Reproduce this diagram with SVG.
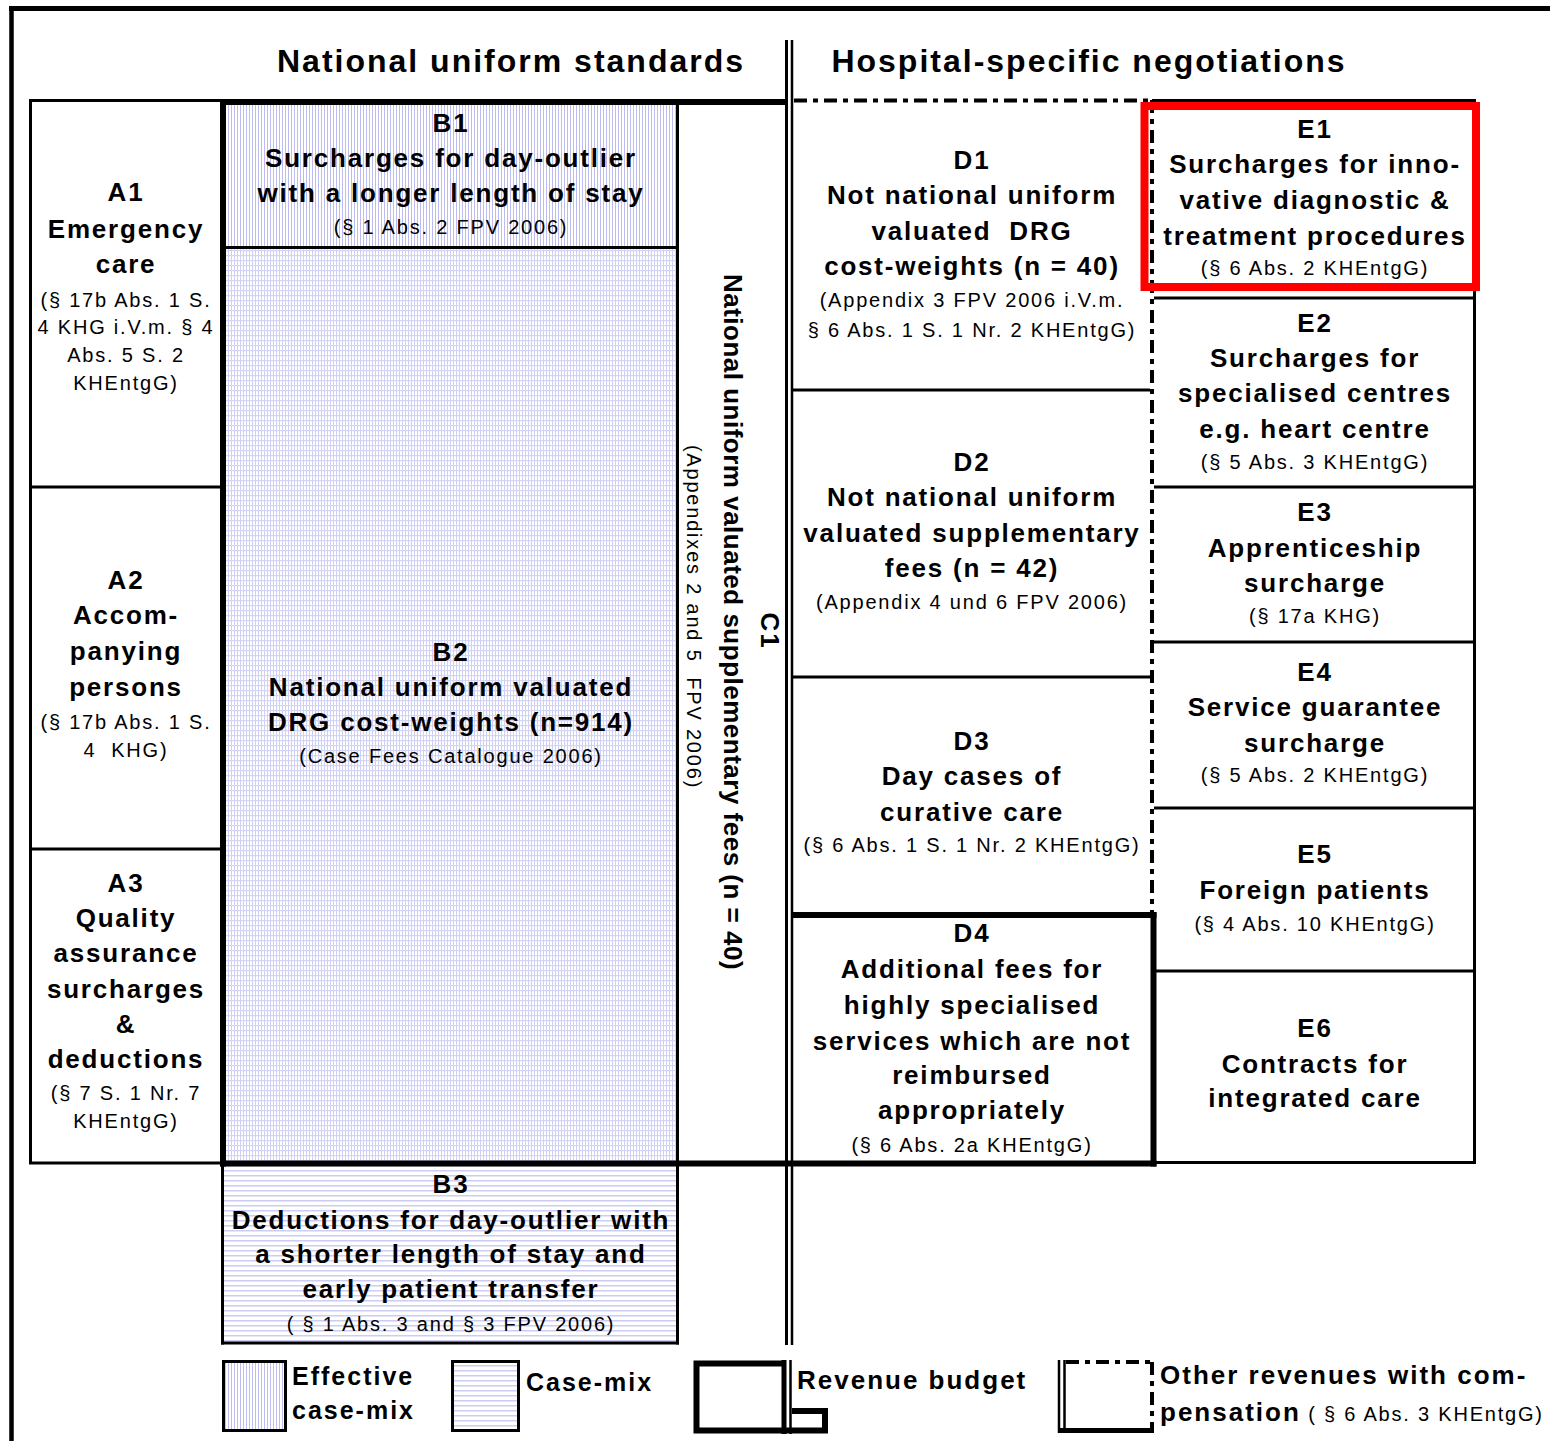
<svg xmlns="http://www.w3.org/2000/svg" width="1550" height="1441" viewBox="0 0 1550 1441">
<style>
.b{font-family:"Liberation Sans",Arial,sans-serif;font-weight:bold;font-size:26px;letter-spacing:1.8px;text-anchor:middle;fill:#000}
.s{font-family:"Liberation Sans",Arial,sans-serif;font-size:20px;letter-spacing:1.8px;text-anchor:middle;fill:#000}
.h{font-family:"Liberation Sans",Arial,sans-serif;font-weight:bold;font-size:32px;letter-spacing:2px;text-anchor:middle;fill:#000}
.l{font-family:"Liberation Sans",Arial,sans-serif;font-weight:bold;font-size:26px;letter-spacing:2px;fill:#000}
.thin{stroke:#000;stroke-width:3;fill:none}
.thick{stroke:#000;stroke-width:6;fill:none}
.dd{stroke:#000;stroke-width:4;fill:none;stroke-dasharray:13 6 5 6}
</style>
<defs>
<pattern id="vert" width="3" height="10" patternUnits="userSpaceOnUse"><rect width="3" height="10" fill="#fff"/><rect width="1" height="10" fill="#bcbcf0"/></pattern>
<pattern id="horiz" width="10" height="5" patternUnits="userSpaceOnUse"><rect width="10" height="5" fill="#fff"/><rect width="10" height="1.5" fill="#cdcdf4"/></pattern>
<pattern id="grid" width="3" height="5" patternUnits="userSpaceOnUse"><rect width="3" height="5" fill="#fff"/><rect width="1" height="5" fill="#d0d0f4"/><rect width="3" height="1.2" fill="#d4d4f6"/></pattern>
</defs>
<rect width="1550" height="1441" fill="#fff"/>

<g id="headers">
<text class="h" x="511" y="72">National uniform standards</text>
<text class="h" x="1089" y="72">Hospital-specific negotiations</text>
</g>

<g id="fills">
<rect x="223" y="101" width="455" height="146" fill="url(#vert)"/>
<rect x="223" y="247" width="455" height="916" fill="url(#grid)"/>
<rect x="222" y="1163" width="456" height="180" fill="url(#horiz)"/>
</g>

<g id="connectors">
<line x1="9" y1="8.5" x2="1550" y2="8.5" stroke="#000" stroke-width="5"/>
<line x1="11.5" y1="6" x2="11.5" y2="1441" stroke="#000" stroke-width="4.5"/>
<rect class="thin" x="30.5" y="100.5" width="192" height="1062.5"/>
<line class="thin" x1="30" y1="487" x2="222" y2="487"/>
<line class="thin" x1="30" y1="849" x2="222" y2="849"/>
<line class="thin" x1="223" y1="247.5" x2="678" y2="247.5"/>
<line class="thin" x1="677.5" y1="102" x2="677.5" y2="1344.5"/>
<line class="thin" x1="222.5" y1="1163" x2="222.5" y2="1344.5"/>
<line class="thin" x1="221" y1="1343" x2="679" y2="1343"/>
<line class="thick" x1="220" y1="102" x2="788" y2="102"/>
<line class="thick" x1="223" y1="99" x2="223" y2="1166.5"/>
<line class="thick" x1="220" y1="1163.5" x2="1156.5" y2="1163.5"/>
<line x1="786.5" y1="40" x2="786.5" y2="1345" stroke="#000" stroke-width="3"/>
<line x1="792" y1="40" x2="792" y2="1345" stroke="#000" stroke-width="2.5"/>
<line class="dd" x1="794" y1="100.5" x2="1152" y2="100.5"/>
<line class="dd" x1="1152" y1="100" x2="1152" y2="913"/>
<line class="thin" x1="793" y1="390" x2="1150" y2="390"/>
<line class="thin" x1="793" y1="677" x2="1150" y2="677"/>
<line class="thick" x1="793" y1="915" x2="1156.5" y2="915"/>
<line class="thick" x1="1153.5" y1="912" x2="1153.5" y2="1166.5"/>
<line class="thin" x1="1152" y1="100.5" x2="1476" y2="100.5"/>
<line class="thin" x1="1474.5" y1="99" x2="1474.5" y2="1164"/>
<line class="thin" x1="1152" y1="1162.5" x2="1476" y2="1162.5"/>
<line class="thin" x1="1154" y1="298" x2="1476" y2="298"/>
<line class="thin" x1="1154" y1="487" x2="1476" y2="487"/>
<line class="thin" x1="1154" y1="642" x2="1476" y2="642"/>
<line class="thin" x1="1154" y1="808" x2="1476" y2="808"/>
<line class="thin" x1="1154" y1="971" x2="1476" y2="971"/>
</g>

<g id="A1">
<text class="b" x="126" y="201">A1</text>
<text class="b" x="126" y="238">Emergency</text>
<text class="b" x="126" y="273">care</text>
<text class="s" x="126" y="307">(§ 17b Abs. 1 S.</text>
<text class="s" x="126" y="334">4 KHG i.V.m. § 4</text>
<text class="s" x="126" y="362">Abs. 5 S. 2</text>
<text class="s" x="126" y="390">KHEntgG)</text>
</g>
<g id="A2">
<text class="b" x="126" y="589">A2</text>
<text class="b" x="126" y="624">Accom-</text>
<text class="b" x="126" y="660">panying</text>
<text class="b" x="126" y="696">persons</text>
<text class="s" x="126" y="729">(§ 17b Abs. 1 S.</text>
<text class="s" x="126" y="757">4&#160; KHG)</text>
</g>
<g id="A3">
<text class="b" x="126" y="892">A3</text>
<text class="b" x="126" y="927">Quality</text>
<text class="b" x="126" y="962">assurance</text>
<text class="b" x="126" y="998">surcharges</text>
<text class="b" x="126" y="1033">&amp;</text>
<text class="b" x="126" y="1068">deductions</text>
<text class="s" x="126" y="1100">(§ 7 S. 1 Nr. 7</text>
<text class="s" x="126" y="1128">KHEntgG)</text>
</g>

<g id="B1">
<text class="b" x="451" y="132">B1</text>
<text class="b" x="451" y="167">Surcharges for day-outlier</text>
<text class="b" x="451" y="202">with a longer length of stay</text>
<text class="s" x="451" y="234">(§ 1 Abs. 2 FPV 2006)</text>
</g>
<g id="B2">
<text class="b" x="451" y="661">B2</text>
<text class="b" x="451" y="696">National uniform valuated</text>
<text class="b" x="451" y="731">DRG cost-weights (n=914)</text>
<text class="s" x="451" y="763">(Case Fees Catalogue 2006)</text>
</g>
<g id="B3">
<text class="b" x="451" y="1193">B3</text>
<text class="b" x="451" y="1229">Deductions for day-outlier with</text>
<text class="b" x="451" y="1263">a shorter length of stay and</text>
<text class="b" x="451" y="1298">early patient transfer</text>
<text class="s" x="451" y="1331">( § 1 Abs. 3 and § 3 FPV 2006)</text>
</g>

<g id="C1">
<text class="b" transform="translate(761,631) rotate(90)">C1</text>
<text class="b" style="letter-spacing:0.5px" transform="translate(724,622) rotate(90)">National uniform valuated supplementary fees (n = 40)</text>
<text class="s" transform="translate(687,617) rotate(90)">(Appendixes 2 and 5&#160; FPV 2006)</text>
</g>

<g id="D1">
<text class="b" x="972" y="169">D1</text>
<text class="b" x="972" y="204">Not national uniform</text>
<text class="b" x="972" y="240">valuated&#160; DRG</text>
<text class="b" x="972" y="275">cost-weights (n = 40)</text>
<text class="s" x="972" y="307">(Appendix 3 FPV 2006 i.V.m.</text>
<text class="s" x="972" y="337">§ 6 Abs. 1 S. 1 Nr. 2 KHEntgG)</text>
</g>
<g id="D2">
<text class="b" x="972" y="471">D2</text>
<text class="b" x="972" y="506">Not national uniform</text>
<text class="b" x="972" y="542">valuated supplementary</text>
<text class="b" x="972" y="577">fees (n = 42)</text>
<text class="s" x="972" y="609">(Appendix 4 und 6 FPV 2006)</text>
</g>
<g id="D3">
<text class="b" x="972" y="750">D3</text>
<text class="b" x="972" y="785">Day cases of</text>
<text class="b" x="972" y="821">curative care</text>
<text class="s" x="972" y="852">(§ 6 Abs. 1 S. 1 Nr. 2 KHEntgG)</text>
</g>
<g id="D4">
<text class="b" x="972" y="942">D4</text>
<text class="b" x="972" y="978">Additional fees for</text>
<text class="b" x="972" y="1014">highly specialised</text>
<text class="b" x="972" y="1050">services which are not</text>
<text class="b" x="972" y="1084">reimbursed</text>
<text class="b" x="972" y="1119">appropriately</text>
<text class="s" x="972" y="1152">(§ 6 Abs. 2a KHEntgG)</text>
</g>

<g id="E1">
<rect x="1144.5" y="106" width="331.5" height="181" fill="none" stroke="#ff0000" stroke-width="8"/>
<text class="b" x="1315" y="138">E1</text>
<text class="b" x="1315" y="173">Surcharges for inno-</text>
<text class="b" x="1315" y="209">vative diagnostic &amp;</text>
<text class="b" x="1315" y="245">treatment procedures</text>
<text class="s" x="1315" y="275">(§ 6 Abs. 2 KHEntgG)</text>
</g>
<g id="E2">
<text class="b" x="1315" y="332">E2</text>
<text class="b" x="1315" y="367">Surcharges for</text>
<text class="b" x="1315" y="402">specialised centres</text>
<text class="b" x="1315" y="438">e.g. heart centre</text>
<text class="s" x="1315" y="469">(§ 5 Abs. 3 KHEntgG)</text>
</g>
<g id="E3">
<text class="b" x="1315" y="521">E3</text>
<text class="b" x="1315" y="557">Apprenticeship</text>
<text class="b" x="1315" y="592">surcharge</text>
<text class="s" x="1315" y="623">(§ 17a KHG)</text>
</g>
<g id="E4">
<text class="b" x="1315" y="681">E4</text>
<text class="b" x="1315" y="716">Service guarantee</text>
<text class="b" x="1315" y="752">surcharge</text>
<text class="s" x="1315" y="782">(§ 5 Abs. 2 KHEntgG)</text>
</g>
<g id="E5">
<text class="b" x="1315" y="863">E5</text>
<text class="b" x="1315" y="899">Foreign patients</text>
<text class="s" x="1315" y="931">(§ 4 Abs. 10 KHEntgG)</text>
</g>
<g id="E6">
<text class="b" x="1315" y="1037">E6</text>
<text class="b" x="1315" y="1073">Contracts for</text>
<text class="b" x="1315" y="1107">integrated care</text>
</g>

<g id="legend-effective">
<rect x="223.5" y="1361.5" width="62" height="69" fill="url(#vert)" stroke="#000" stroke-width="3"/>
<text class="l" style="font-size:25px" x="292" y="1385">Effective</text>
<text class="l" style="font-size:25px" x="292" y="1419">case-mix</text>
</g>
<g id="legend-casemix">
<rect x="452.5" y="1361.5" width="66" height="69" fill="url(#horiz)" stroke="#000" stroke-width="3"/>
<text class="l" style="font-size:25px" x="526" y="1391">Case-mix</text>
</g>
<g id="legend-revenue">
<path d="M784,1363.5 H696.5 V1430.5 H825 V1411 H792" fill="none" stroke="#000" stroke-width="6"/>
<line x1="784" y1="1360" x2="784" y2="1434" stroke="#000" stroke-width="5"/>
<line x1="790.5" y1="1360" x2="790.5" y2="1434" stroke="#000" stroke-width="2.5"/>
<text class="l" x="797" y="1389">Revenue budget</text>
</g>
<g id="legend-other">
<line x1="1059" y1="1360" x2="1059" y2="1433" stroke="#000" stroke-width="2.5"/>
<line x1="1064.5" y1="1360" x2="1064.5" y2="1433" stroke="#000" stroke-width="2.5"/>
<line class="dd" x1="1066" y1="1362" x2="1152" y2="1362"/>
<line class="dd" x1="1152" y1="1362" x2="1152" y2="1430"/>
<line x1="1058" y1="1430.5" x2="1154" y2="1430.5" stroke="#000" stroke-width="5"/>
<text class="l" x="1160" y="1384">Other revenues with com-</text>
<text class="l" x="1160" y="1421">pensation<tspan style="font-weight:normal;font-size:20px;letter-spacing:1.8px"> ( § 6 Abs. 3 KHEntgG)</tspan></text>
</g>
</svg>
